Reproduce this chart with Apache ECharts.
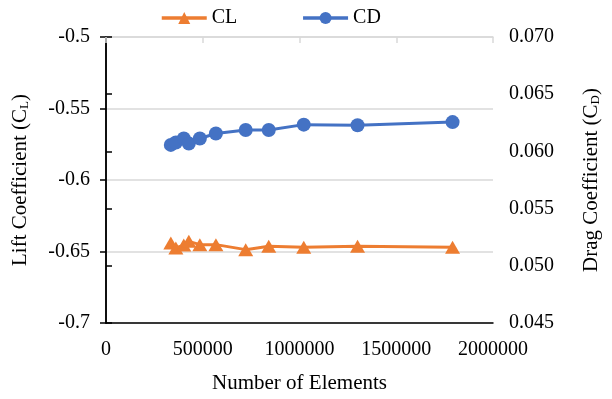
<!DOCTYPE html>
<html>
<head>
<meta charset="utf-8">
<script src="https://cdn.jsdelivr.net/npm/echarts@6/dist/echarts.min.js"></script>
<style>
html,body{margin:0;padding:0;background:#fff;}
#c{width:612px;height:399px;}
</style>
</head>
<body>
<div id="c"></div>
<script>
// Data
var elements = [335000, 361000, 402000, 428000, 485000, 568000, 722000, 841000, 1022000, 1300000, 1791000];
var clValues = [-0.6440, -0.6475, -0.6455, -0.6429, -0.6452, -0.6452, -0.6487, -0.6464, -0.6471, -0.6464, -0.6471];
var cdValues = [0.06057, 0.06078, 0.06113, 0.06069, 0.06113, 0.06156, 0.06187, 0.06187, 0.06234, 0.06228, 0.06256];
var xTicks = [0, 500000, 1000000, 1500000, 2000000];
var leftTicks = [-0.7, -0.65, -0.6, -0.55, -0.5];
var rightTicks = [0.045, 0.050, 0.055, 0.060, 0.065, 0.070];

function pairs(xs, ys) { return xs.map(function (x, i) { return [x, ys[i]]; }); }

var FONT = '"Liberation Serif", "Times New Roman", serif';
var chart = echarts.init(document.getElementById('c'));
chart.setOption({
  animation: false,
  textStyle: { fontFamily: FONT, color: '#000' },
  legend: {
    left: 155, top: 3,
    itemWidth: 45, itemHeight: 15, itemGap: 64,
    lineStyle: { width: 3.5 },
    textStyle: { fontFamily: FONT, fontSize: 20, color: '#000' },
    data: [
      { name: 'CL', lineStyle: { width: 3.5, color: '#ED7D31' } },
      { name: 'CD', lineStyle: { width: 3.5, color: '#4472C4' } }
    ]
  },
  grid: { left: 106, right: 119, top: 37, bottom: 73 },
  xAxis: [{
    type: 'value', position: 'bottom', min: 0, max: 2000000, interval: 500000,
    axisLine: { show: true, lineStyle: { color: '#000', width: 1.5 } },
    axisTick: { show: false },
    splitLine: { show: false },
    axisLabel: { fontFamily: FONT, fontSize: 20, color: '#000', margin: 17,
      formatter: function (v) { return xTicks.indexOf(v) >= 0 ? String(v) : ''; } },
    name: 'Number of Elements', nameLocation: 'middle', nameGap: 50,
    nameTextStyle: { fontFamily: FONT, fontSize: 21, color: '#000' }
  }, {
    type: 'value', position: 'top', min: 0, max: 2000000, interval: 500000,
    axisLine: { show: true, lineStyle: { color: '#d9d9d9', width: 1.5 } },
    axisTick: { show: true, inside: true, length: 6, lineStyle: { color: '#d9d9d9', width: 1.5 } },
    axisLabel: { show: false },
    splitLine: { show: false }
  }],
  yAxis: [{
    type: 'value', position: 'left', min: -0.7, max: -0.5, interval: 0.05,
    axisLine: { show: true, lineStyle: { color: '#000', width: 1.5 } },
    axisTick: { show: true, length: 6, lineStyle: { color: '#000', width: 1.5 } },
    splitLine: { show: true, lineStyle: { color: '#d9d9d9', width: 1.5 } },
    axisLabel: { fontFamily: FONT, fontSize: 20, color: '#000', margin: 16,
      formatter: function (v) { return String(parseFloat(v.toFixed(2))); } },
    name: '{a|Lift Coefficient (C}{s|L}{a|)}', nameLocation: 'middle', nameRotate: 90, nameGap: 75,
    nameTextStyle: { rich: {
      a: { fontFamily: FONT, fontSize: 21, color: '#000' },
      s: { fontFamily: FONT, fontSize: 13, color: '#000', verticalAlign: 'bottom', padding: [9, 0, 0, 0] }
    } }
  }, {
    type: 'value', position: 'right', min: 0.045, max: 0.070, interval: 0.005,
    axisLine: { show: true, lineStyle: { color: '#000', width: 1.5 } },
    axisTick: { show: true, length: 6, lineStyle: { color: '#000', width: 1.5 } },
    splitLine: { show: false },
    axisLabel: { fontFamily: FONT, fontSize: 20, color: '#000', margin: 16,
      formatter: function (v) { return v.toFixed(3); } },
    name: '{a|Drag Coefficient (C}{s|D}{a|)}', nameLocation: 'middle', nameRotate: 90, nameGap: 87,
    nameTextStyle: { rich: {
      a: { fontFamily: FONT, fontSize: 21, color: '#000' },
      s: { fontFamily: FONT, fontSize: 13, color: '#000', verticalAlign: 'bottom', padding: [9, 0, 0, 0] }
    } }
  }],
  series: [{
    name: 'CL', type: 'line', xAxisIndex: 0, yAxisIndex: 0,
    data: pairs(elements, clValues),
    symbol: 'triangle', symbolSize: [15, 13],
    lineStyle: { color: '#ED7D31', width: 3 },
    itemStyle: { color: '#ED7D31' }
  }, {
    name: 'CD', type: 'line', xAxisIndex: 0, yAxisIndex: 1,
    data: pairs(elements, cdValues),
    symbol: 'circle', symbolSize: 14,
    lineStyle: { color: '#4472C4', width: 3 },
    itemStyle: { color: '#4472C4' }
  }]
});
</script>
</body>
</html>
